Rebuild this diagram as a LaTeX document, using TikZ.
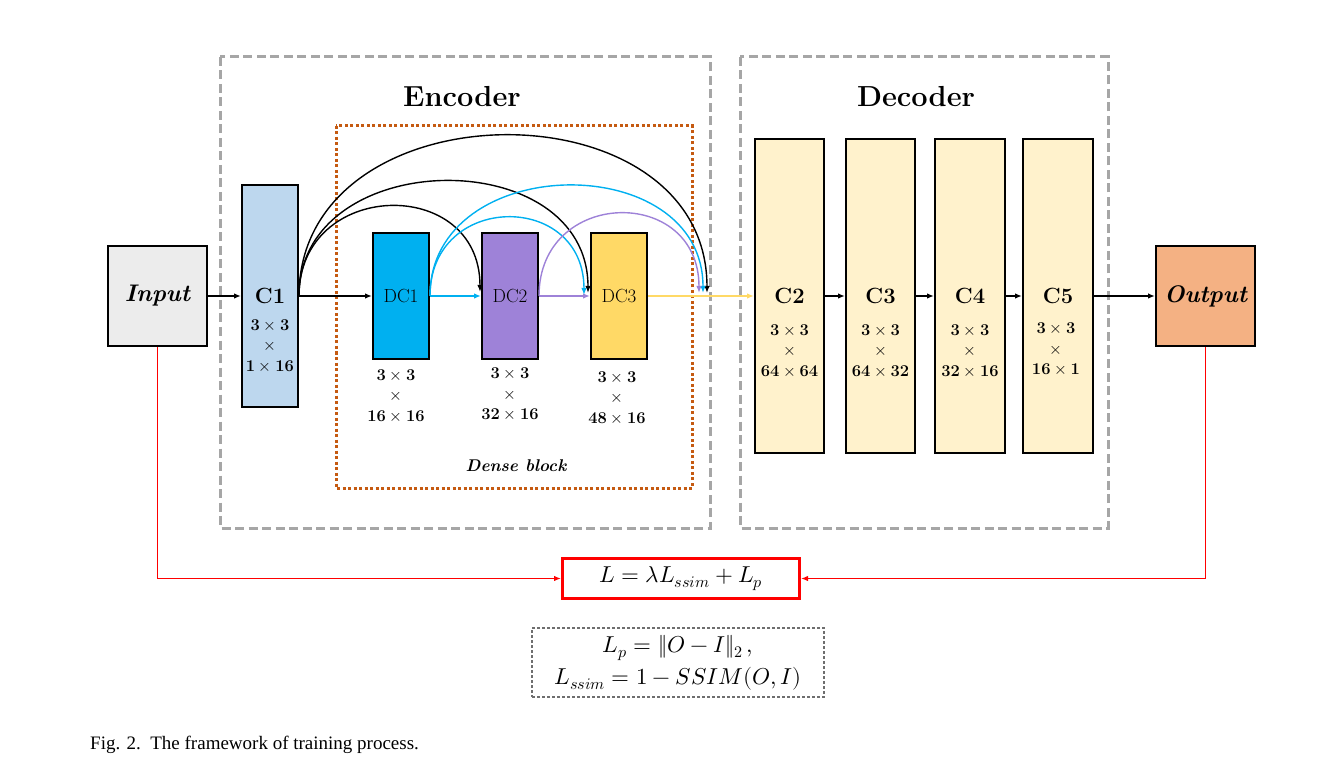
\documentclass[tikz,border=0pt]{standalone}
\usepackage{fontspec}
\usepackage{amsmath}
\usepackage{unicode-math}
\setmathfont{Latin Modern Math}
\newfontfamily\captionfont{Liberation Serif}
\usetikzlibrary{arrows.meta,calc}
\definecolor{inputgray}{RGB}{236,236,236}
\definecolor{c1blue}{RGB}{189,215,238}
\definecolor{dc1blue}{RGB}{0,176,240}
\definecolor{dc2purple}{RGB}{158,130,216}
\definecolor{dc3yellow}{RGB}{255,217,102}
\definecolor{decfill}{RGB}{255,242,204}
\definecolor{outorange}{RGB}{244,177,131}
\definecolor{framegray}{RGB}{166,166,166}
\definecolor{denseorange}{RGB}{197,90,17}
\definecolor{lossred}{RGB}{255,0,0}
\definecolor{notegray}{RGB}{110,110,110}

\begin{document}
\begin{tikzpicture}[x=1pt,y=1pt,yscale=-1,xscale=1,
  layer/.style={draw,line width=2pt,inner sep=0pt},
  dims/.style={align=center,inner sep=0pt,font=\fontsize{16.5}{20.5}\selectfont},
  flow/.style={line width=1.8pt,-{Latex[length=7pt,width=5.5pt]}},
  skip/.style={line width=1.4pt,-{Latex[length=7pt,width=5.5pt]}},
  frame/.style={draw=framegray,line width=3pt,dash pattern=on 9pt off 4.5pt},
  lossline/.style={draw=lossred,line width=1.8pt,-{Latex[length=7pt,width=5.5pt]}}]
\useasboundingbox (0,0) rectangle (1319,775);

%Shape: Dashed frames
\draw[frame] (220,57) rectangle (710,528);
\draw[frame] (740,57) rectangle (1108,528);
\draw[draw=denseorange,line width=3pt,dash pattern=on 3pt off 2.5pt] (336,126) rectangle (692,488);

% Text Node
\node[font=\fontsize{29}{32}\selectfont\bfseries] (EncTitle) at (462,97) {Encoder};
\node[font=\fontsize{29}{32}\selectfont\bfseries] (DecTitle) at (916,97) {Decoder};
\node[font=\fontsize{17}{20}\selectfont\bfseries\itshape] (DenseTitle) at (516,466) {Dense block};

%Shape: Layers
\node[layer,fill=inputgray,minimum width=99pt,minimum height=100pt,font=\fontsize{24}{26}\selectfont\bfseries\itshape] (Input) at (157.5,296) {Input};
\node[layer,fill=c1blue,minimum width=56pt,minimum height=222pt,font=\fontsize{22}{24}\selectfont\bfseries] (C1) at (270,296) {C1};
\node[layer,fill=dc1blue,minimum width=56pt,minimum height=125pt,font=\fontsize{19}{20}\selectfont] (DC1) at (401,296) {DC1};
\node[layer,fill=dc2purple,minimum width=56pt,minimum height=125pt,font=\fontsize{19}{20}\selectfont] (DC2) at (510,296) {DC2};
\node[layer,fill=dc3yellow,minimum width=56pt,minimum height=126pt,font=\fontsize{19}{20}\selectfont] (DC3) at (619,296) {DC3};
\node[layer,fill=decfill,minimum width=69pt,minimum height=313pt,font=\fontsize{22}{24}\selectfont\bfseries] (C2) at (789.5,296) {C2};
\node[layer,fill=decfill,minimum width=69pt,minimum height=313pt,font=\fontsize{22}{24}\selectfont\bfseries] (C3) at (880.5,296) {C3};
\node[layer,fill=decfill,minimum width=70pt,minimum height=313pt,font=\fontsize{22}{24}\selectfont\bfseries] (C4) at (970,296) {C4};
\node[layer,fill=decfill,minimum width=70pt,minimum height=313pt,font=\fontsize{22}{24}\selectfont\bfseries] (C5) at (1058,296) {C5};
\node[layer,fill=outorange,minimum width=99pt,minimum height=100pt,font=\fontsize{24}{26}\selectfont\bfseries\itshape] (Output) at (1205.5,296) {Output};

% Text Node: kernel sizes
\node[dims] (C1dim) at (270,345.5) {$\mathbf{3\times3}$\\$\times$\\$\mathbf{1\times16}$};
\node[dims] (DC1dim) at (396,395.5) {$\mathbf{3\times3}$\\$\times$\\$\mathbf{16\times16}$};
\node[dims] (DC2dim) at (510,394) {$\mathbf{3\times3}$\\$\times$\\$\mathbf{32\times16}$};
\node[dims] (DC3dim) at (617,397.5) {$\mathbf{3\times3}$\\$\times$\\$\mathbf{48\times16}$};
\node[dims] (C2dim) at (789.5,350.5) {$\mathbf{3\times3}$\\$\times$\\$\mathbf{64\times64}$};
\node[dims] (C3dim) at (880.5,350.5) {$\mathbf{3\times3}$\\$\times$\\$\mathbf{64\times32}$};
\node[dims] (C4dim) at (970,350.5) {$\mathbf{3\times3}$\\$\times$\\$\mathbf{32\times16}$};
\node[dims] (C5dim) at (1056,349) {$\mathbf{3\times3}$\\$\times$\\$\mathbf{16\times1}$};

%Straight Lines
\draw[flow] (Input.east) -- (C1.west);
\draw[flow] (C1.east) -- (DC1.west);
\draw[flow,draw=dc1blue] (DC1.east) -- (DC2.west);
\draw[flow,draw=dc2purple] (DC2.east) -- (DC3.west);
\draw[flow,draw=dc3yellow] (DC3.east) -- (C2.west);
\draw[flow] (C2.east) -- (C3.west);
\draw[flow] (C3.east) -- (C4.west);
\draw[flow] (C4.east) -- (C5.west);
\draw[flow] (C5.east) -- (Output.west);

%Curve Lines: dense connections
\coordinate (joinP) at (699,293);
\coordinate (joinB) at (703,293);
\coordinate (joinK) at (707,293);
\draw[skip] (C1.east) .. controls +(0,-117) and +(0,-117) .. ($(DC2.west)+(-1,-4)$);
\draw[skip] (C1.east) .. controls +(0,-151) and +(0,-151) .. ($(DC3.west)+(-2,-3)$);
\draw[skip] (C1.east) .. controls +(0,-212) and +(0,-212) .. (joinK);
\draw[skip,draw=dc1blue] (DC1.east) .. controls +(0,-104) and +(0,-104) .. ($(DC3.west)+(-6,-1)$);
\draw[skip,draw=dc1blue] (DC1.east) .. controls +(0,-145) and +(0,-145) .. (joinB);
\draw[skip,draw=dc2purple] (DC2.east) .. controls +(0,-108) and +(0,-108) .. (joinP);

% Loss
\node[draw=lossred,line width=3pt,minimum width=237pt,minimum height=40pt,font=\fontsize{23}{26}\selectfont] (Loss) at (681,578.5) {$L=\lambda L_{ssim}+L_p$};
\draw[lossline] (Input.south) |- (Loss.west);
\draw[lossline] (Output.south) |- (Loss.east);
\node[draw=notegray,line width=2.8pt,dash pattern=on 3pt off 2pt,minimum width=292pt,minimum height=69pt,align=center,font=\fontsize{23}{32}\selectfont] (Note) at (678,662.5) {$L_p=\lVert O-I\rVert_2\,,$\\$L_{ssim}=1-SSIM(O,I)$};

% Caption
\node[anchor=west,inner sep=0pt,font=\captionfont\fontsize{19}{21}\selectfont] (Caption) at (90,745) {Fig. 2.\ \ The framework of training process.};
\end{tikzpicture}
\end{document}
